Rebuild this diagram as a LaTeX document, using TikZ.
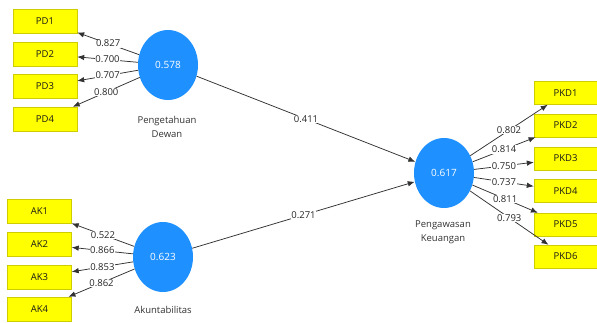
\documentclass[tikz,border=0pt]{standalone}
\usepackage{fontspec}
\setmainfont{Open Sans}
\usetikzlibrary{arrows.meta,shapes.geometric}
\definecolor{lvblue}{RGB}{30,144,255}
\definecolor{indyellow}{RGB}{255,255,0}
\definecolor{indborder}{RGB}{205,205,0}
\definecolor{linegray}{RGB}{50,50,50}
\begin{document}
\begin{tikzpicture}[x=1pt,y=-1pt,
 indbox/.style={draw=indborder,fill=indyellow,minimum width=64pt,minimum height=24pt,inner sep=0pt,font=\fontsize{9.5}{10}\selectfont,text=black!90},
 latent/.style={ellipse,fill=lvblue,minimum width=60pt,minimum height=70pt,inner sep=0pt,text=white,font=\fontsize{10}{11}\selectfont},
 conn/.style={draw=linegray,line width=0.75pt,-{Latex[length=7pt,width=5.5pt]}},
 coef/.style={fill=white,inner sep=0.5pt,font=\fontsize{9.5}{10}\selectfont,text=black!85},
 lvname/.style={font=\fontsize{9.5}{14}\selectfont,text=black!80,align=center}]
\useasboundingbox[fill=white] (0,0) rectangle (597,322);
% latent variables
\node[latent] (PD) at (168,65) {0.578};
\node[latent] (AK) at (163,257) {0.623};
\node[latent] (PK) at (444,173) {0.617};
\node[lvname] (PDn) at (167,127) {Pengetahuan\\Dewan};
\node[lvname] (AKn) at (163,310) {Akuntabilitas};
\node[lvname] (PKn) at (443,232) {Pengawasan\\Keuangan};
% indicators
\node[indbox] (PD1) at (45,21) {PD1};
\node[indbox] (PD2) at (45,54) {PD2};
\node[indbox] (PD3) at (45,86.5) {PD3};
\node[indbox] (PD4) at (45,119) {PD4};
\node[indbox] (AK1) at (39.5,211.5) {AK1};
\node[indbox] (AK2) at (39.5,244) {AK2};
\node[indbox] (AK3) at (39.5,277) {AK3};
\node[indbox] (AK4) at (39.5,309) {AK4};
\node[indbox,minimum width=63pt,minimum height=23pt] (PKD1) at (565.5,93) {PKD1};
\node[indbox,minimum width=63pt,minimum height=23pt] (PKD2) at (565.5,125.5) {PKD2};
\node[indbox,minimum width=63pt,minimum height=23pt] (PKD3) at (565.5,158.5) {PKD3};
\node[indbox,minimum width=63pt,minimum height=23pt] (PKD4) at (565.5,191) {PKD4};
\node[indbox,minimum width=63pt,minimum height=23pt] (PKD5) at (565.5,224.5) {PKD5};
\node[indbox,minimum width=63pt,minimum height=23pt] (PKD6) at (565.5,256.5) {PKD6};
% outer loadings
\draw[conn] (PD) -- node[coef]{0.827} (PD1);
\draw[conn] (PD) -- node[coef]{0.700} (PD2);
\draw[conn] (PD) -- node[coef]{0.707} (PD3);
\draw[conn] (PD) -- node[coef]{0.800} (PD4);
\draw[conn] (AK) -- node[coef]{0.522} (AK1);
\draw[conn] (AK) -- node[coef]{0.866} (AK2);
\draw[conn] (AK) -- node[coef]{0.853} (AK3);
\draw[conn] (AK) -- node[coef]{0.862} (AK4);
\draw[conn] (PK) -- node[coef]{0.802} (PKD1);
\draw[conn] (PK) -- node[coef]{0.814} (PKD2);
\draw[conn] (PK) -- node[coef]{0.750} (PKD3);
\draw[conn] (PK) -- node[coef]{0.737} (PKD4);
\draw[conn] (PK) -- node[coef]{0.811} (PKD5);
\draw[conn] (PK) -- node[coef]{0.793} (PKD6);
% path coefficients
\draw[conn] (PD) -- node[coef]{0.411} (PK);
\draw[conn] (AK) -- node[coef]{0.271} (PK);
\end{tikzpicture}
\end{document}
